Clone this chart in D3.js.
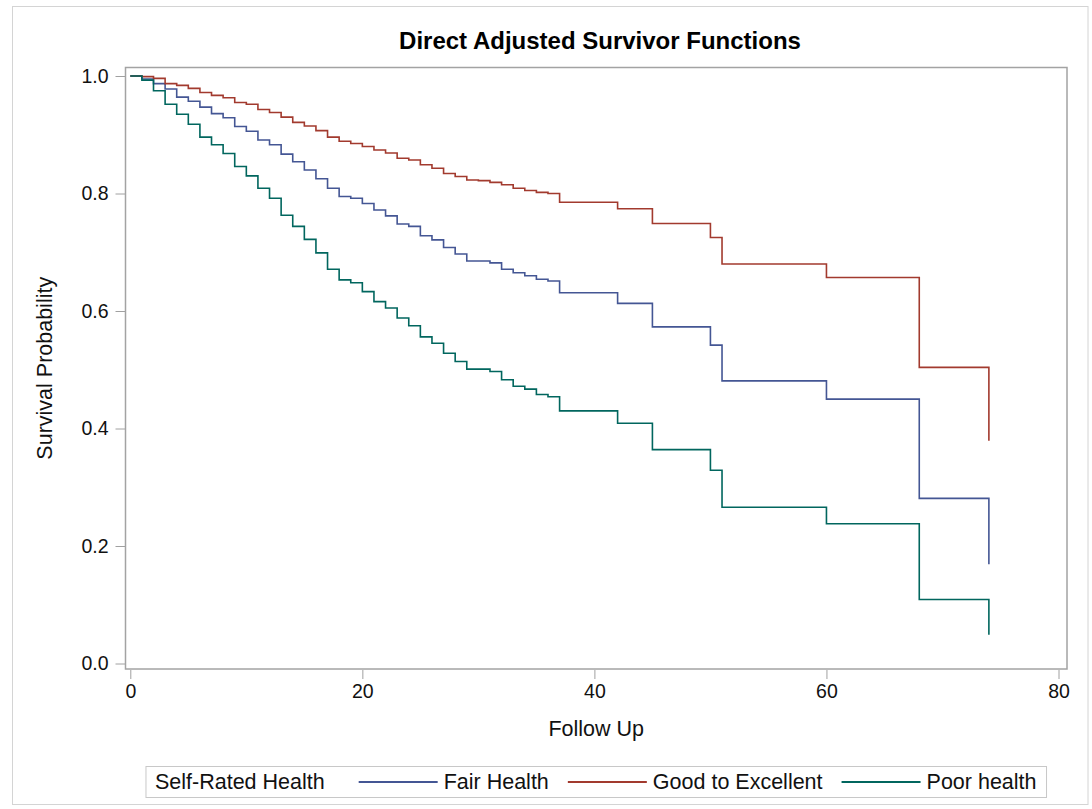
<!DOCTYPE html>
<html>
<head>
<meta charset="utf-8">
<script src="https://cdn.jsdelivr.net/npm/d3@7/dist/d3.min.js"></script>
<style>
  body { margin: 0; background: #fff; }
  text { font-family: "Liberation Sans", Arial, sans-serif; fill: #111; }
</style>
</head>
<body>
<div id="chart"></div>
<script>
// follow up times where the adjusted curves step
var followUp = [0, 1, 2, 3, 4, 5, 6, 7, 8, 9, 10, 11, 12, 13, 14, 15, 16, 17, 18, 19,
  20, 21, 22, 23, 24, 25, 26, 27, 28, 29, 30, 31, 32, 33, 34, 35, 36, 37,
  42, 45, 50, 51, 60, 68, 74];

var fairHealth = [1.000, 0.995, 0.987, 0.978, 0.964, 0.957, 0.947, 0.936, 0.929, 0.914,
  0.906, 0.891, 0.883, 0.867, 0.854, 0.840, 0.825, 0.809, 0.795, 0.792,
  0.783, 0.772, 0.762, 0.748, 0.744, 0.728, 0.721, 0.708, 0.697, 0.685,
  0.685, 0.682, 0.671, 0.665, 0.660, 0.654, 0.651, 0.631,
  0.613, 0.573, 0.542, 0.481, 0.450, 0.281, 0.169];

var goodToExcellent = [1.000, 0.999, 0.996, 0.987, 0.984, 0.979, 0.972, 0.967, 0.963, 0.955,
  0.952, 0.943, 0.938, 0.930, 0.921, 0.915, 0.907, 0.896, 0.889, 0.885,
  0.880, 0.874, 0.869, 0.860, 0.857, 0.849, 0.843, 0.834, 0.829, 0.823,
  0.822, 0.819, 0.815, 0.809, 0.805, 0.802, 0.800, 0.785,
  0.774, 0.749, 0.725, 0.680, 0.657, 0.504, 0.379];

var poorHealth = [1.000, 0.993, 0.975, 0.952, 0.935, 0.918, 0.896, 0.883, 0.868, 0.846,
  0.830, 0.809, 0.792, 0.763, 0.744, 0.722, 0.699, 0.671, 0.653, 0.648,
  0.633, 0.616, 0.605, 0.588, 0.575, 0.556, 0.545, 0.528, 0.514, 0.501,
  0.501, 0.497, 0.483, 0.472, 0.467, 0.458, 0.454, 0.430,
  0.409, 0.364, 0.329, 0.266, 0.238, 0.109, 0.049];

var seriesNames = ["Fair Health", "Good to Excellent", "Poor health"];
var seriesColors = ["#445694", "#A23A2E", "#01665E"];
var xTicks = [0, 20, 40, 60, 80];
var yTicks = [0, 0.2, 0.4, 0.6, 0.8, 1.0];

var width = 1092, height = 809;
// plot wall (frame) and the data area inside it
var frame = { left: 125.5, right: 1067, top: 67.5, bottom: 669 };

var svg = d3.select("#chart").append("svg")
  .attr("width", width)
  .attr("height", height);

// outer graph border
svg.append("rect")
  .attr("x", 12.5).attr("y", 6.5)
  .attr("width", 1075.5).attr("height", 798)
  .attr("fill", "none")
  .attr("stroke", "#d4d4d4");

var x = d3.scaleLinear().domain([0, 80]).range([130.3, 1058.5]);
var y = d3.scaleLinear().domain([0, 1]).range([663.5, 76]);

// title
svg.append("text")
  .attr("x", 600).attr("y", 49)
  .attr("text-anchor", "middle")
  .style("font-size", "24px")
  .style("font-weight", "bold")
  .style("fill", "#000")
  .text("Direct Adjusted Survivor Functions");

// x axis (ticks hang below the wall)
var xAxis = svg.append("g")
  .attr("transform", "translate(0," + (frame.bottom + 1) + ")")
  .call(d3.axisBottom(x).tickValues(xTicks).tickSize(9).tickPadding(5)
    .tickFormat(d3.format("d")));

// y axis
var yAxis = svg.append("g")
  .attr("transform", "translate(" + frame.left + ",0)")
  .call(d3.axisLeft(y).tickValues(yTicks).tickSize(10).tickPadding(7)
    .tickFormat(d3.format(".1f")));

[xAxis, yAxis].forEach(function (g) {
  g.select(".domain").remove();
  g.selectAll(".tick line").attr("stroke", "#a0a0a0");
  g.selectAll(".tick text")
    .style("font-size", "19.5px")
    .style("font-family", "'Liberation Sans', Arial, sans-serif")
    .attr("fill", "#111");
});

// axis labels
svg.append("text")
  .attr("x", (frame.left + frame.right) / 2).attr("y", 736)
  .attr("text-anchor", "middle")
  .style("font-size", "21.5px")
  .text("Follow Up");

svg.append("text")
  .attr("transform", "translate(51.5," + (frame.top + frame.bottom) / 2 + ") rotate(-90)")
  .attr("text-anchor", "middle")
  .style("font-size", "21.5px")
  .text("Survival Probability");

// step curves
var series = [fairHealth, goodToExcellent, poorHealth];

var line = d3.line()
  .x(function (d, i) { return x(followUp[i]); })
  .y(function (d) { return y(d); })
  .curve(d3.curveStepAfter);

svg.append("g").selectAll("path")
  .data(series)
  .enter().append("path")
  .attr("d", line)
  .attr("fill", "none")
  .attr("stroke", function (d, i) { return seriesColors[i]; })
  .attr("stroke-width", 1.6);

// wall outline on top
svg.append("rect")
  .attr("x", frame.left).attr("y", frame.top)
  .attr("width", frame.right - frame.left)
  .attr("height", frame.bottom - frame.top)
  .attr("fill", "none")
  .attr("stroke", "#a3a3a3")
  .attr("stroke-width", 1.5);

// legend
var legend = svg.append("g");
var legendBox = legend.append("rect")
  .attr("fill", "none")
  .attr("stroke", "#c8c8c8");

var lx = 9;
var legendTitle = legend.append("text")
  .attr("x", lx).attr("y", 22)
  .style("font-size", "21.5px")
  .text("Self-Rated Health");
lx += legendTitle.node().getComputedTextLength() + 34;

seriesNames.forEach(function (name, i) {
  legend.append("line")
    .attr("x1", lx).attr("x2", lx + 79)
    .attr("y1", 15.5).attr("y2", 15.5)
    .attr("stroke", seriesColors[i])
    .attr("stroke-width", 2);
  lx += 85;
  var t = legend.append("text")
    .attr("x", lx).attr("y", 22)
    .style("font-size", "21.5px")
    .text(name);
  lx += t.node().getComputedTextLength() + (i < seriesNames.length - 1 ? 19 : 10);
});

legendBox.attr("x", 0).attr("y", 0).attr("width", lx).attr("height", 31);
legend.attr("transform", "translate(" + ((frame.left + frame.right) / 2 - lx / 2) + ",766.5)");
</script>
</body>
</html>
